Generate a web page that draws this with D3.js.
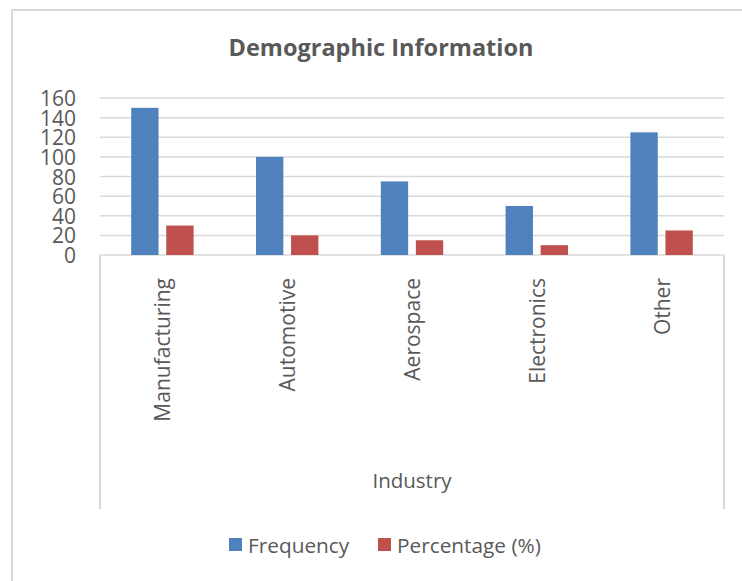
<!DOCTYPE html>
<html>
<head>
<meta charset="utf-8">
<script src="https://cdn.jsdelivr.net/npm/d3@7"></script>
<style>
    body { margin: 0; background: #fff; }
    text { fill: #595959; font-family: "Open Sans", sans-serif; }
</style>
</head>
<body>
<div id="chart"></div>
<script>
var industries = ["Manufacturing", "Automotive", "Aerospace", "Electronics", "Other"];
var seriesNames = ["Frequency", "Percentage (%)"];
var frequency = [150, 100, 75, 50, 125];
var percentage = [30, 20, 15, 10, 25];
var yTicks = [0, 20, 40, 60, 80, 100, 120, 140, 160];
var seriesColors = ["#4f81bd", "#c0504d"];

var width = 742, height = 581;
var plot = { left: 100, right: 724, top: 98, bottom: 255 };

var svg = d3.select("#chart").append("svg")
    .attr("width", width)
    .attr("height", height);

// chart border (only left and top visible)
svg.append("line").attr("x1", 12).attr("x2", width).attr("y1", 10).attr("y2", 10)
    .attr("stroke", "#d9d9d9").attr("stroke-width", 2);
svg.append("line").attr("x1", 12).attr("x2", 12).attr("y1", 10).attr("y2", height)
    .attr("stroke", "#d9d9d9").attr("stroke-width", 2);

// titolo
svg.append("text")
    .attr("x", 381)
    .attr("y", 56)
    .attr("text-anchor", "middle")
    .style("font-size", "23.5px")
    .style("font-weight", "bold")
    .text("Demographic Information");

var y = d3.scaleLinear().domain([0, 160]).range([plot.bottom, plot.top]);
var x0 = d3.scaleBand().domain(industries).range([plot.left, plot.right]);
var x1 = d3.scaleBand().domain(seriesNames)
    .range([x0.bandwidth() * 0.25, x0.bandwidth() * 0.75])
    .paddingInner(0.22);
var color = d3.scaleOrdinal().domain(seriesNames).range(seriesColors);

// griglia
svg.append("g")
    .selectAll("line")
    .data(yTicks)
    .enter().append("line")
    .attr("x1", plot.left)
    .attr("x2", plot.right)
    .attr("y1", function (d) { return y(d); })
    .attr("y2", function (d) { return y(d); })
    .attr("stroke", "#d9d9d9")
    .attr("stroke-width", 1.5);

// asse Y
var yAxis = svg.append("g")
    .attr("transform", "translate(" + (plot.left - 24) + ",0)")
    .call(d3.axisLeft(y).tickValues(yTicks).tickSize(0).tickPadding(0));
yAxis.select(".domain").remove();
yAxis.selectAll("text")
    .attr("dy", "0.36em")
    .style("font-size", "21px")
    .style("fill", "#595959")
    .style("font-family", "'Open Sans', sans-serif");

// box under the category axis
[plot.left, plot.right].forEach(function (xx) {
    svg.append("line")
        .attr("x1", xx).attr("x2", xx)
        .attr("y1", plot.bottom).attr("y2", 509)
        .attr("stroke", "#d9d9d9").attr("stroke-width", 2);
});

// barre
var rows = industries.map(function (c, i) {
    return { industry: c, values: [frequency[i], percentage[i]] };
});

var groups = svg.selectAll(".group")
    .data(rows)
    .enter().append("g")
    .attr("class", "group")
    .attr("transform", function (d) { return "translate(" + x0(d.industry) + ",0)"; });

groups.selectAll("rect")
    .data(function (d) {
        return seriesNames.map(function (s, j) { return { key: s, value: d.values[j] }; });
    })
    .enter().append("rect")
    .attr("x", function (d) { return x1(d.key); })
    .attr("width", x1.bandwidth())
    .attr("y", function (d) { return y(d.value); })
    .attr("height", function (d) { return y(0) - y(d.value); })
    .attr("fill", function (d) { return color(d.key); });

// etichette categorie
svg.selectAll(".cat")
    .data(industries)
    .enter().append("text")
    .attr("class", "cat")
    .attr("transform", function (d) {
        return "translate(" + (x0(d) + x0.bandwidth() / 2 + 8) + ",278) rotate(-90)";
    })
    .attr("text-anchor", "end")
    .style("font-size", "21px")
    .text(function (d) { return d; });

// titolo asse
svg.append("text")
    .attr("x", (plot.left + plot.right) / 2)
    .attr("y", 488)
    .attr("text-anchor", "middle")
    .style("font-size", "20.5px")
    .text("Industry");

// legenda
var legendPos = [229, 378];
var legend = svg.selectAll(".legend")
    .data(seriesNames)
    .enter().append("g")
    .attr("class", "legend")
    .attr("transform", function (d, i) { return "translate(" + legendPos[i] + ",538)"; });

legend.append("rect")
    .attr("width", 13)
    .attr("height", 13)
    .attr("fill", color);

legend.append("text")
    .attr("x", 19)
    .attr("y", 14.5)
    .style("font-size", "20.8px")
    .text(function (d) { return d; });
</script>
</body>
</html>
